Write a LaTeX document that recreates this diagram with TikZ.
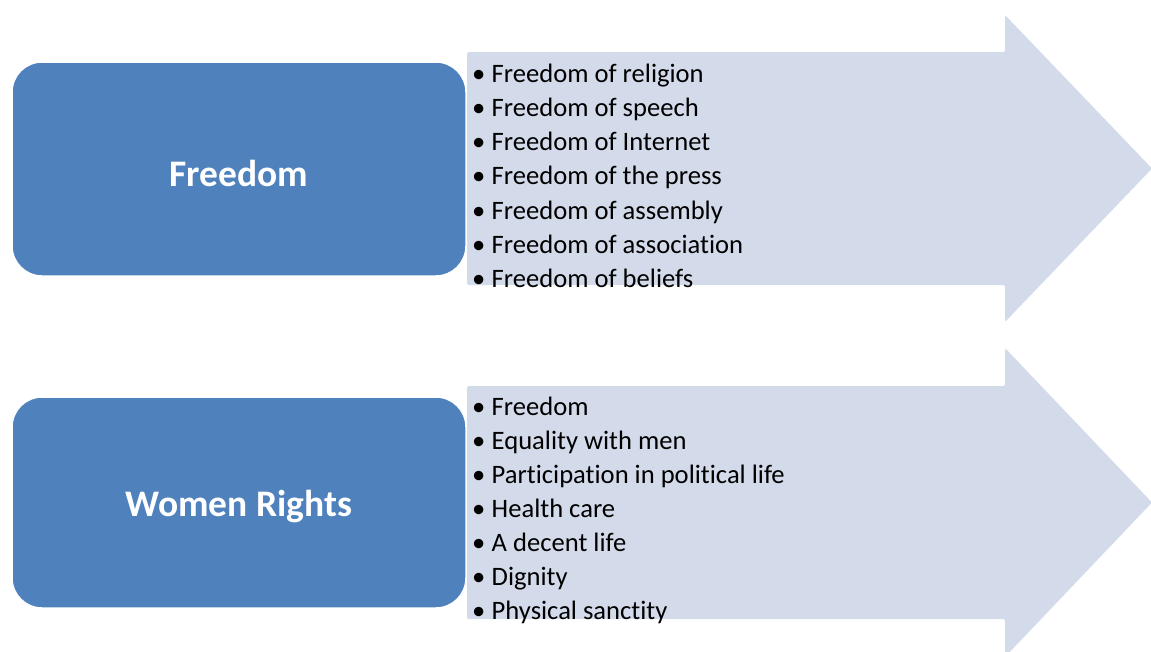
\documentclass[tikz,border=0pt]{standalone}
\usepackage{fontspec}
\setmainfont[Ligatures={NoCommon,NoRare,NoContextual}]{Carlito}
\definecolor{boxblue}{HTML}{4F81BD}
\definecolor{arrowfill}{HTML}{D3DBEA}
\begin{document}
\begin{tikzpicture}[x=1pt,y=-1pt,
  titlebox/.style={fill=boxblue,draw=white,line width=1.5pt,rounded corners=30pt},
  titletext/.style={text=white,font=\fontsize{37.5}{45}\selectfont\bfseries,inner sep=0pt},
  bigarrow/.style={fill=arrowfill,draw=none,rounded corners=1.5pt},
  item/.style={anchor=base west,inner sep=0pt,font=\fontsize{26.6}{32}\selectfont,text=black}]
\useasboundingbox (0,0) rectangle (1151,651);

% upper arrow and its list
\path[bigarrow] (467,52) -- (1005,52) -- (1005,15) -- (1152,168.5) -- (1005,322)
  -- (1005,285) -- (467,285) -- cycle;
\draw[titlebox] (12,62) rectangle (466,276);
\node[titletext] (freedom) at (239,173) {Freedom};
\foreach \t [count=\i] in {Freedom of religion,Freedom of speech,Freedom of Internet,
  Freedom of the press,Freedom of assembly,Freedom of association,Freedom of beliefs}
  \node[item] (fa\i) at (472,{82+34.33*(\i-1)}) {\makebox[19.5pt][l]{•}\t};

% lower arrow and its list
\path[bigarrow] (467,386) -- (1005,386) -- (1005,348) -- (1152,502.5) -- (1005,657)
  -- (1005,619) -- (467,619) -- cycle;
\draw[titlebox] (12,397) rectangle (466,608);
\node[titletext] (women) at (239,507) {Women Rights};
\foreach \t [count=\i] in {Freedom,Equality with men,Participation in political life,
  Health care,A decent life,Dignity,Physical sanctity}
  \node[item] (wr\i) at (472,{415+34*(\i-1)}) {\makebox[19.5pt][l]{•}\t};
\end{tikzpicture}
\end{document}
